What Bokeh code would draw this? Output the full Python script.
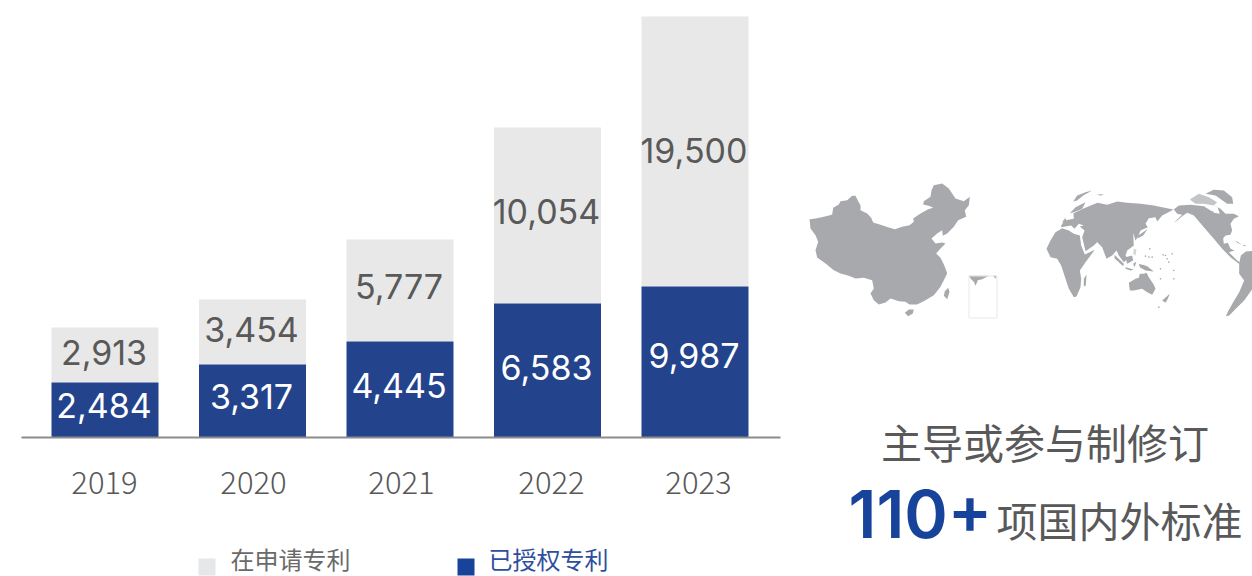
from bokeh.embed import file_html
from bokeh.resources import INLINE
from bokeh.plotting import figure
from bokeh.models import Range1d, LinearAxis, FixedTicker, ColumnDataSource
from bokeh.core.properties import value

years = ["2019", "2020", "2021", "2022", "2023"]
granted = [2484, 3317, 4445, 6583, 9987]
pending = [2913, 3454, 5777, 10054, 19500]
# The reference's bars are not drawn to scale with their printed numbers,
# so the heights are read off the picture as a series of their own.
granted_bar = [55, 73, 96, 134, 151]
pending_bar = [55, 65, 102, 176, 270]
legend_labels = ["在申请专利", "已授权专利"]
headline = "主导或参与制修订"
big_number = "110+"
big_suffix = "项国内外标准"

# map outlines (each list in its crop's coordinates, 3x)
china = [(12,122),(30,120),(48,116),(68,112),(80,108),(83,88),(100,78),(105,68),(125,65),(140,52),(150,52),(158,68),(165,80),(165,95),(185,105),(197,118),(203,132),(230,140),(250,147),(268,152),(290,145),(312,140),(325,130),(323,120),(345,105),(368,92),(383,88),(370,82),(353,78),(355,68),(375,55),(378,35),(385,20),(410,15),(430,30),(450,60),(475,68),(493,55),(490,80),(478,95),(482,115),(458,125),(445,145),(425,165),(412,172),(410,155),(395,165),(378,180),(390,195),(410,192),(420,195),(405,210),(392,225),(405,238),(415,258),(420,270),(425,285),(415,305),(405,325),(385,350),(360,365),(335,378),(312,378),(300,370),(280,368),(255,360),(240,372),(220,378),(205,365),(195,345),(205,330),(200,305),(175,298),(150,300),(130,292),(105,285),(85,275),(60,255),(35,237),(30,215),(38,190),(30,170),(15,150)]
hainan = [(298,403),(310,393),(325,393),(322,405),(308,413)]
taiwan = [(428,328),(432,340),(425,362),(415,352),(418,338)]
inset_a = [(490,292),(550,292),(530,302),(517,305),(510,322),(505,310),(497,302)]
inset_b = [(562,292),(574,292),(570,300)]
china_parts = [china, hainan, taiwan, inset_a, inset_b]

# crop A, origin (1040,190)
africa = [(18,175),(30,150),(45,125),(65,113),(85,120),(100,130),(118,135),(122,165),(133,192),(163,178),(135,215),(118,240),(122,265),(120,290),(108,318),(100,320),(85,295),(75,265),(62,225),(50,205),(30,200)]
madagascar = [(130,265),(138,252),(136,285),(130,288)]
scandinavia = [(88,68),(105,50),(135,35),(125,55),(100,65)]
uk = [(65,95),(75,82),(78,96)]
sliver = [(98,33),(110,15),(135,5),(155,0),(128,15),(110,30)]
small_a = [(170,12),(190,11),(180,16)]
# crop-free outline of Eurasia in picture pixels, from crops A and B
eurasia = [(1060.7,225),(1064,220),(1073.3,218.3),(1073,212.7),(1083,208),(1097,202.3),(1106.7,204.3),(1116.7,201),(1126.7,202.3),(1140,203.3),(1153.3,205),(1166.7,207.7),(1173,209),(1168,211.7),(1161.7,215),(1156.7,221),(1155,216.7),(1148.3,217.7),(1145,223.3),(1147.3,226.7),(1140,230),(1137.7,235.7),(1135,240),(1132.7,232.3),(1133.3,245),(1126.7,250),(1125,255),(1127.3,258.3),(1123.3,261.7),(1118.3,255),(1116,250),(1111.7,255),(1106,258.3),(1101.7,246.7),(1096.7,241.7),(1098.3,240),(1093.3,245),(1085,250.7),(1081.7,236.7),(1084,230),(1079.3,226),(1083.3,225),(1078.3,223.3),(1074,228.3),(1070.7,225),(1065,226),(1060.7,226.7)]
# crop B, origin (1090,195)
japan = [(165,105),(172,100),(158,120),(142,128),(140,122)]
sakhalin = [(198,68),(205,60),(202,75)]
# crop C, origin (1110,245)
australia = [(55,112),(75,100),(85,97),(88,85),(100,85),(108,82),(115,95),(130,118),(135,130),(125,148),(110,140),(95,130),(70,135),(58,135)]
sumatra = [(12,28),(40,55),(38,62),(12,38)]
borneo = [(45,35),(65,30),(68,45),(50,55)]
sulawesi = [(68,55),(78,48),(72,65)]
java = [(45,65),(70,72),(60,75),(45,70)]
guinea = [(85,55),(110,62),(130,78),(105,75),(88,65)]
zealand = [(155,165),(178,145),(172,160),(165,172)]
philippines = [(70,10),(78,12),(75,30),(68,25)]
# crop D, origin (1170,185)
namerica = [(10,72),(25,60),(60,58),(100,62),(125,78),(135,62),(150,70),(165,85),(190,85),(205,92),(190,100),(180,115),(185,135),(180,148),(165,150),(158,158),(160,175),(172,172),(180,190),(192,195),(175,200),(200,225),(210,232),(205,235),(180,215),(155,190),(130,160),(100,125),(70,90),(50,82),(35,92),(20,105),(10,112),(35,88),(20,85)]
greenland = [(105,25),(130,13),(160,15),(185,35),(188,55),(170,55),(135,30)]
archipelago = [(58,42),(85,25),(115,35),(140,50),(130,60),(100,55),(75,55)]
cuba = [(195,165),(215,178),(200,172)]
hispaniola = [(218,178),(228,180),(220,182)]
hudson = [(120,65),(140,62),(148,85),(130,82)]
# crop E, origin (1212,245)
samerica = [(120,16),(100,18),(85,30),(80,55),(80,85),(95,105),(80,140),(62,170),(48,195),(40,212),(50,210),(70,190),(95,165),(120,130)]
# loose islands, crop C origin
islands = [(118,10),(115,35),(165,30),(175,50),(190,100),(150,100),(190,75),(20,-40),(30,-20),(60,-10),(105,32),(125,35),(158,28),(170,40),(145,185),(100,60),(150,70),(185,25),(60,-30),(48,-35)]

# layout
W, H = 1252, 576
BASE = 437
BAR_X0, BAR_PITCH, BAR_W = 104.5, 147.5, 107
GRAY, BLUE, TEXT, MAP = "#e8e8e8", "#23438d", "#595959", "#a7a9ac"
NUM_FONT = value("Inter")
CJK = value("Noto Sans CJK SC")
TICKS = [104, 253, 401, 551, 698]
GRANTED_NUDGE = [-5, -5, -4, -3, -7]
PENDING_NUDGE = [-3, -3, -4, -4, -1]

p = figure(width=W, height=H, x_range=Range1d(0, 1252), y_range=Range1d(BASE - 576, BASE),
           output_backend="svg", toolbar_location=None, min_border=0, outline_line_color=None,
           background_fill_color="white", x_axis_location=None, y_axis_location=None)
p.grid.visible = False
p.extra_y_ranges["px"] = Range1d(576, 0)

x = [BAR_X0 + BAR_PITCH * i for i in range(len(years))]
top = [g + q for g, q in zip(granted_bar, pending_bar)]
src = ColumnDataSource(dict(x=x, g=granted_bar, t=top,
                            gm=[g / 2 for g in granted_bar],
                            tm=[g + q / 2 for g, q in zip(granted_bar, pending_bar)],
                            gn=GRANTED_NUDGE, pn=PENDING_NUDGE,
                            gl=[f"{v:,}" for v in granted], pl=[f"{v:,}" for v in pending]))
p.vbar(x="x", width=BAR_W, bottom="g", top="t", source=src, fill_color=GRAY, line_color=None)
p.vbar(x="x", width=BAR_W, bottom=0, top="g", source=src, fill_color=BLUE, line_color=None)

p.text(x="x", y="tm", text="pl", source=src, text_font=NUM_FONT, text_font_size="34px", text_color=TEXT,
       text_align="center", text_baseline="middle", y_offset="pn", x_offset=-1)
p.text(x="x", y="gm", text="gl", source=src, text_font=NUM_FONT, text_font_size="34px", text_color="white",
       text_align="center", text_baseline="middle", y_offset="gn", x_offset=-1)

axis = LinearAxis(fixed_location=0, ticker=FixedTicker(ticks=TICKS),
                  bounds=(21, 780), axis_line_color="#8c8c8c", axis_line_width=2,
                  major_tick_line_color=None, minor_tick_line_color=None,
                  major_label_text_font="Noto Sans CJK SC Light", major_label_text_font_size="31px",
                  major_label_text_color="#585858", major_label_standoff=27,
                  major_label_overrides={t: y for t, y in zip(TICKS, years)})
p.add_layout(axis, "below")

def shift(parts, ox, oy):
    return [[ox + a / 3 for a, b in s] for s in parts], [[oy + b / 3 for a, b in s] for s in parts]

groups = [
    (china_parts, 805, 178, MAP),
    ([africa, madagascar, scandinavia, uk, sliver, small_a], 1040, 190, MAP),
    ([eurasia], None, None, MAP),
    ([japan, sakhalin], 1090, 195, MAP),
    ([australia, sumatra, borneo, sulawesi, java, guinea, zealand], 1110, 245, MAP),
    ([philippines], 1110, 245, "#d4d5d7"),
    ([namerica, greenland, cuba, hispaniola], 1170, 185, MAP),
    ([archipelago], 1170, 185, "#c4c5c8"),
    ([hudson], 1170, 185, "white"),
    ([samerica], 1212, 245, MAP),
]
for parts, ox, oy, col in groups:
    if ox is None:
        xs, ys = [[a for a, b in s] for s in parts], [[b for a, b in s] for s in parts]
    else:
        xs, ys = shift(parts, ox, oy)
    p.patches(xs, ys, y_range_name="px", fill_color=col, line_color=None)

ix, iy = shift([islands], 1110, 245)
p.scatter(ix[0], iy[0], y_range_name="px", size=1.6, fill_color=MAP, line_color=None)
p.quad(left=968.5, right=996.5, top=275.5, bottom=317.5, y_range_name="px",
       fill_color=None, line_color="#e8e8e8", line_width=1)

def label(tx, ty, s, size, color, font=CJK, align="center", style="normal"):
    return p.text(x=[tx], y=[ty], text=[s], y_range_name="px", text_font=font, text_font_size=size,
                  text_color=color, text_align=align, text_baseline="middle", text_font_style=style)

label(1044.5, 440, headline, "41px", TEXT)
label(848, 513, big_number, "66px", "#17439b", font=value("Inter SemiBold"), align="left")
label(1119, 518, big_suffix, "41px", TEXT)

p.quad(left=[198], right=[215], top=[575], bottom=[558], y_range_name="px", fill_color="#e6e7e8", line_color=None)
p.quad(left=[457], right=[474], top=[575], bottom=[558], y_range_name="px", fill_color="#17439b", line_color=None)
label(230, 558, legend_labels[0], "24px", "#6a6a6a", align="left")
label(488, 558, legend_labels[1], "24px", "#2e4f9e", align="left")

open("out.html", "w").write(file_html(p, INLINE))
